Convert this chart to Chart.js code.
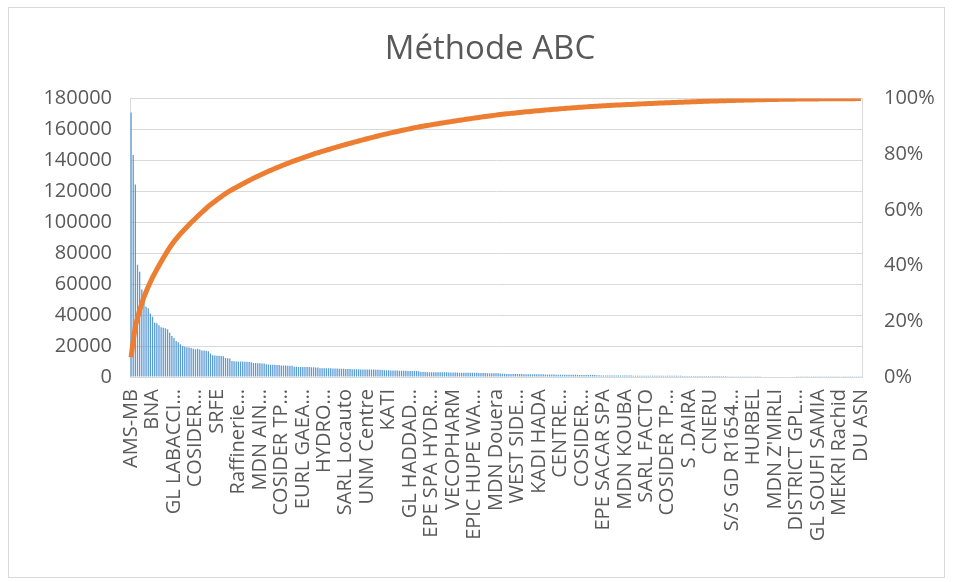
<!DOCTYPE html>
<html lang="fr">
<head>
<meta charset="utf-8">
<title>Méthode ABC</title>
<script src="https://cdn.jsdelivr.net/npm/chart.js@4/dist/chart.umd.min.js"></script>
<style>
  html, body { margin: 0; padding: 0; background: #ffffff; }
  #wrap { width: 954px; height: 582px; }
</style>
</head>
<body>
<div id="wrap"><canvas id="abc" width="954" height="582"></canvas></div>
<script>
// Clients shown on the category axis (one name every 10 clients)
const shownClients = [
  "AMS-MB", "BNA", "GL LABACCI…", "COSIDER…", "SRFE", "Raffinerie…", "MDN AIN…",
  "COSIDER TP…", "EURL GAEA…", "HYDRO…", "SARL Locauto", "UNM Centre", "KATI",
  "GL HADDAD…", "EPE SPA HYDR…", "VECOPHARM", "EPIC HUPE WA…", "MDN Douera",
  "WEST SIDE…", "KADI HADA", "CENTRE…", "COSIDER…", "EPE SACAR SPA", "MDN KOUBA",
  "SARL FACTO", "COSIDER TP…", "S .DAIRA", "CNERU", "S/S GD R1654…", "HURBEL",
  "MDN Z'MIRLI", "DISTRICT GPL…", "GL SOUFI SAMIA", "MEKRI Rachid", "DU ASN"
];
const labelEvery = 10;

// Amount per client, sorted in decreasing order
const amounts = [
  171000, 143500, 124500, 72500, 68000, 56500, 55000, 45500, 44500, 41000,
  39000, 35000, 34700, 33500, 32200, 31800, 31500, 30800, 28600, 26500,
  25200, 23300, 22500, 21200, 20000, 19600, 19300, 19100, 18800, 18200,
  18000, 18300, 17700, 17200, 17100, 17000, 16700, 15200, 14100, 13900,
  13800, 13700, 13600, 13400, 12300, 12100, 11900, 10300, 10200, 10100,
  10100, 10000, 10000, 9900, 9800, 9700, 9600, 9100, 9000, 8900,
  8900, 8800, 8700, 8200, 8100, 8000, 8000, 7900, 7800, 7700,
  7500, 7400, 7400, 7300, 7300, 7200, 6600, 6600, 6500, 6500,
  6500, 6400, 6400, 6400, 6300, 6300, 6200, 6200, 5700, 5700,
  5600, 5600, 5600, 5600, 5500, 5500, 5500, 5400, 5400, 5300,
  5100, 5100, 5100, 5000, 5000, 5000, 5000, 4900, 4900, 4900,
  4900, 4800, 4800, 4800, 4700, 4700, 4700, 4600, 4300, 4300,
  4300, 4200, 4200, 4200, 4200, 4100, 4000, 4000, 4000, 3900,
  3900, 3900, 3800, 3800, 3700, 3200, 3200, 3200, 3100, 3100,
  3100, 3100, 3100, 3000, 3000, 3000, 3000, 3000, 2900, 2900,
  2900, 2900, 2900, 2800, 2800, 2800, 2800, 2800, 2700, 2700,
  2700, 2700, 2600, 2600, 2600, 2600, 2500, 2500, 2500, 2500,
  2400, 2400, 2300, 2100, 2100, 2000, 2000, 2000, 2000, 1900,
  1900, 1900, 1900, 1800, 1800, 1800, 1800, 1800, 1700, 1700,
  1700, 1700, 1700, 1600, 1600, 1600, 1600, 1600, 1500, 1500,
  1500, 1500, 1500, 1400, 1400, 1400, 1400, 1400, 1350, 1350,
  1350, 1300, 1300, 1300, 1250, 1250, 1250, 1200, 1150, 1000,
  990, 980, 975, 970, 960, 950, 945, 940, 930, 920,
  915, 910, 900, 890, 885, 880, 870, 860, 855, 850,
  840, 830, 825, 820, 810, 800, 795, 790, 780, 770,
  765, 760, 750, 745, 740, 735, 730, 725, 720, 715,
  710, 705, 700, 700, 700, 700, 680, 670, 660, 650,
  640, 630, 620, 610, 600, 590, 580, 570, 560, 550,
  540, 530, 520, 510, 500, 490, 480, 470, 460, 450,
  440, 430, 420, 410, 400, 390, 380, 370, 360, 350,
  340, 330, 320, 310, 300, 290, 280, 270, 260, 250,
  240, 230, 220, 210, 200, 195, 190, 185, 180, 175,
  170, 165, 160, 155, 150, 145, 140, 135, 130, 125,
  120, 115, 110, 105, 100, 100, 100, 100, 100, 100,
  100
];

// Axis ticks
const amountTicks = { min: 0, max: 180000, step: 20000 };
const shareTicks = { min: 0, max: 1, step: 0.2 };

// Category labels: a name on every 10th client, blank elsewhere
const categories = amounts.map((_, i) =>
  i % labelEvery === 0 ? (shownClients[i / labelEvery] || "") : "");

// Cumulative share of the total (Pareto curve)
const total = amounts.reduce((a, b) => a + b, 0);
let running = 0;
const cumulativeShare = amounts.map(v => { running += v; return running / total; });

const grey = "#595959";
const gridGrey = "#D9D9D9";
const tickFont = { family: "'Open Sans', sans-serif", size: 20 };

const frame = {
  id: "frame",
  beforeDraw(chart) {
    const c = chart.ctx;
    c.save();
    c.fillStyle = "#ffffff";
    c.fillRect(0, 0, chart.width, chart.height);
    c.strokeStyle = gridGrey;
    c.lineWidth = 1;
    c.strokeRect(8.5, 7.5, 936, 570);
    c.restore();
  }
};

new Chart(document.getElementById("abc"), {
  data: {
    labels: categories,
    datasets: [
      {
        type: "line",
        label: "Cumul %",
        data: cumulativeShare,
        yAxisID: "y1",
        borderColor: "#ED7D31",
        borderWidth: 5,
        pointRadius: 0,
        tension: 0,
        borderJoinStyle: "round",
        order: 0
      },
      {
        type: "bar",
        label: "Montant",
        data: amounts,
        yAxisID: "y",
        backgroundColor: "#5B9BD5",
        barPercentage: 0.6,
        categoryPercentage: 1,
        order: 1
      }
    ]
  },
  options: {
    responsive: false,
    animation: false,
    layout: { padding: { left: 26, right: 0, top: 0, bottom: 0 } },
    plugins: {
      legend: { display: false },
      tooltip: { enabled: false },
      title: {
        display: true,
        text: "Méthode ABC",
        color: grey,
        font: { family: "'Open Sans', sans-serif", size: 33, weight: "normal" },
        padding: { top: 30, bottom: 29 }
      }
    },
    scales: {
      x: {
        grid: { display: false, drawTicks: false },
        border: { display: true, color: gridGrey },
        ticks: {
          autoSkip: false,
          maxRotation: 90,
          minRotation: 90,
          padding: 12,
          color: grey,
          font: tickFont
        },
        afterFit(s) { s.height = 205; }
      },
      y: {
        position: "left",
        min: amountTicks.min,
        max: amountTicks.max,
        ticks: {
          stepSize: amountTicks.step,
          padding: 18,
          color: grey,
          font: tickFont,
          callback: v => String(v)
        },
        grid: { color: gridGrey, drawTicks: false },
        border: { display: true, color: gridGrey },
        afterFit(s) { s.width = 104; }
      },
      y1: {
        position: "right",
        min: shareTicks.min,
        max: shareTicks.max,
        ticks: {
          stepSize: shareTicks.step,
          padding: 22,
          color: grey,
          font: tickFont,
          callback: v => Math.round(v * 100) + "%"
        },
        grid: { display: false, drawTicks: false },
        border: { display: true, color: gridGrey },
        afterFit(s) { s.width = 92; }
      }
    }
  },
  plugins: [frame]
});
</script>
</body>
</html>
